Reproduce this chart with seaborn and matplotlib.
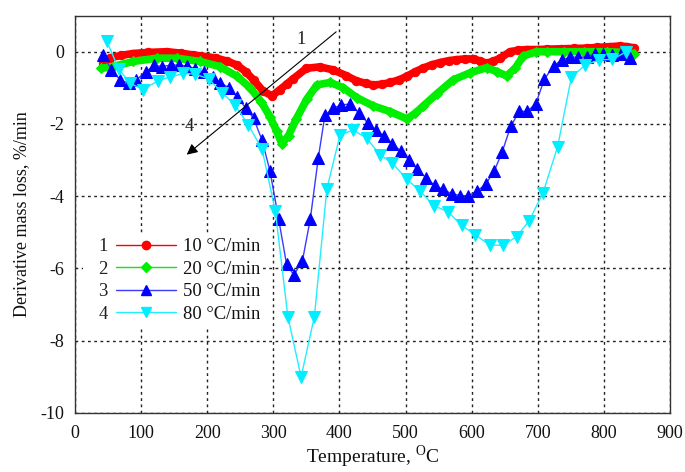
import matplotlib
matplotlib.use("Agg")
import matplotlib.pyplot as plt
from matplotlib.lines import Line2D
from matplotlib.patches import Rectangle
from matplotlib.ticker import MultipleLocator
import seaborn as sns

# Heating rates and the curve numbers used in the legend / arrow
rates = ["10 \u00b0C/min", "20 \u00b0C/min", "50 \u00b0C/min", "80 \u00b0C/min"]
curve_ids = ["1", "2", "3", "4"]

# 10 degC/min
t_10 = [43, 53, 70, 88, 110, 139, 160, 179, 200, 214, 230, 245, 258, 270, 285,
        298, 310, 320, 330, 350, 370, 390, 410, 425, 440, 451, 465, 477, 490,
        502, 515, 527, 540, 552, 565, 577, 590, 603, 613, 623, 633, 643, 658,
        670, 683, 700, 714, 735, 755, 775, 790, 810, 825, 835, 845]
dm_10 = [-0.32, -0.17, -0.10, -0.05, -0.02, 0.00, -0.04, -0.09, -0.14, -0.18,
         -0.26, -0.37, -0.55, -0.78, -1.10, -1.22, -1.05, -0.90, -0.75, -0.46,
         -0.42, -0.50, -0.66, -0.80, -0.88, -0.92, -0.90, -0.85, -0.78, -0.68,
         -0.55, -0.45, -0.36, -0.30, -0.25, -0.22, -0.20, -0.20, -0.26, -0.32,
         -0.26, -0.18, 0.00, 0.04, 0.06, 0.06, 0.07, 0.08, 0.09, 0.10, 0.12,
         0.14, 0.16, 0.14, 0.11]

# 20 degC/min
t_20 = [40, 58, 88, 124, 154, 189, 219, 245, 265, 282, 295, 305, 313, 323, 335,
        351, 366, 386, 406, 426, 451, 477, 502, 515, 527, 547, 572, 598, 623,
        638, 653, 666, 678, 698, 714, 740, 770, 805, 830, 845]
dm_20 = [-0.46, -0.41, -0.27, -0.18, -0.18, -0.27, -0.41, -0.68, -1.00, -1.40,
         -1.80, -2.20, -2.55, -2.32, -1.85, -1.30, -0.92, -0.85, -1.00, -1.27,
         -1.50, -1.66, -1.86, -1.70, -1.50, -1.17, -0.78, -0.58, -0.44, -0.55,
         -0.67, -0.45, -0.12, 0.00, 0.00, 0.00, 0.00, 0.00, -0.02, -0.05]

# 50 degC/min
t_50 = [43, 55, 68, 81, 93, 107, 120, 132, 145, 157, 170, 182, 195, 208, 220,
        233, 245, 258, 270, 283, 295, 308, 320, 331, 344, 356, 368, 378, 391,
        403, 416, 430, 443, 455, 468, 480, 493, 505, 518, 531, 544, 556, 570,
        582, 595, 608, 621, 634, 646, 659, 672, 684, 697, 710, 724, 736, 749,
        761, 774, 787, 799, 812, 826, 840]
dm_50 = [-0.09, -0.50, -0.77, -0.88, -0.78, -0.55, -0.38, -0.41, -0.37, -0.37,
         -0.40, -0.47, -0.57, -0.71, -0.86, -1.00, -1.25, -1.55, -1.84, -2.45,
         -3.31, -4.63, -5.88, -6.18, -5.79, -4.62, -2.94, -1.76, -1.56, -1.47,
         -1.45, -1.70, -1.98, -2.18, -2.33, -2.55, -2.75, -3.00, -3.26, -3.49,
         -3.70, -3.81, -3.93, -3.98, -3.99, -3.86, -3.67, -3.31, -2.78, -2.07,
         -1.65, -1.65, -1.44, -0.76, -0.39, -0.23, -0.15, -0.15, -0.15, -0.06,
         -0.06, -0.08, -0.07, -0.18]

# 80 degC/min
t_80 = [48, 66, 83, 103, 126, 144, 164, 182, 202, 222, 242, 262, 283, 303, 322,
        342, 362, 381, 401, 421, 441, 461, 480, 502, 522, 543, 564, 585, 605,
        627, 647, 668, 687, 708, 730, 751, 772, 792, 813, 834]
dm_80 = [0.29, -0.47, -0.87, -1.05, -0.80, -0.70, -0.60, -0.62, -0.75, -1.13,
         -1.47, -2.02, -2.70, -4.41, -7.34, -9.00, -7.34, -3.79, -2.30, -2.17,
         -2.39, -2.85, -3.08, -3.53, -3.86, -4.26, -4.43, -4.81, -5.06, -5.35,
         -5.36, -5.12, -4.68, -3.90, -2.63, -0.69, -0.37, -0.23, -0.21, 0.00]

x_ticks = [0, 100, 200, 300, 400, 500, 600, 700, 800, 900]
y_ticks = [-10, -8, -6, -4, -2, 0]

sns.set_theme(style="white")
plt.rcParams["font.family"] = ["Liberation Serif", "DejaVu Serif"]
plt.rcParams["mathtext.fontset"] = "custom"
plt.rcParams["mathtext.rm"] = "Liberation Serif"
plt.rcParams["axes.unicode_minus"] = False

FS_TICK = 13
FS_LEG = 13.4
FS_XLAB = 14
FS_YLAB = 13

fig = plt.figure(figsize=(6.85, 4.72), dpi=100)
ax = fig.add_axes([0.1095, 0.125, 0.8686, 0.842])
ax.set_axisbelow(True)

# colour of line, colour of marker, marker, marker size, line width
styles = [
    ("#ff0000", "#ff0000", "o", 6, 5.5),
    ("#00ee00", "#00ee00", "D", 5.5, 5.5),
    ("#3a3aff", "#0000ff", "^", 8, 1.0),
    ("#22eeff", "#00eeff", "v", 8, 1.0),
]
for (t, dm), (lc, mc, mk, ms, lw) in zip(
        [(t_10, dm_10), (t_20, dm_20), (t_50, dm_50), (t_80, dm_80)], styles):
    sns.lineplot(x=t, y=dm, ax=ax, color=lc, linewidth=lw, marker=mk,
                 markersize=ms, markerfacecolor=mc, markeredgecolor=mc,
                 sort=False, estimator=None, zorder=3)

ax.set_xlim(0, 900)
ax.set_ylim(-10, 1)
ax.set_xticks(x_ticks)
ax.set_yticks(y_ticks)
ax.set_xticklabels([str(v) for v in x_ticks])
ax.set_yticklabels([str(v) for v in y_ticks])
ax.xaxis.set_minor_locator(MultipleLocator(20))
ax.yaxis.set_minor_locator(MultipleLocator(0.2))
ax.tick_params(which="both", direction="in", top=False, right=False,
               colors="#222222", labelcolor="#111111")
ax.tick_params(which="major", length=6, width=0.8, labelsize=FS_TICK)
ax.tick_params(axis="x", which="major", pad=9)
ax.tick_params(axis="y", which="major", pad=8)
ax.tick_params(which="minor", length=4, width=0.8)
ax.grid(True, which="major", color="#222222", linestyle=(0, (2, 2.5)),
        linewidth=1.0)
for s in ax.spines.values():
    s.set_color("#333333")
    s.set_linewidth(1.0)

ax.set_xlabel(r"Temperature, $^{\mathrm{O}}$C", fontsize=FS_XLAB,
              color="#111111", labelpad=1)
ax.set_ylabel("Derivative mass loss, %/min", fontsize=FS_YLAB,
              color="#111111", labelpad=7)

# Arrow showing the order of the curves with increasing heating rate
ax.annotate("", xy=(169, -2.85), xytext=(395, 0.55),
            arrowprops=dict(arrowstyle="-|>", color="black", lw=0.8,
                            mutation_scale=16, shrinkA=0, shrinkB=0))
ax.text(342, 0.34, curve_ids[0], fontsize=FS_LEG, ha="center", va="center",
        color="#222222")
ax.text(173, -2.07, curve_ids[3], fontsize=FS_LEG, ha="center", va="center",
        color="#222222")

# White panel behind the legend block
ax.add_patch(Rectangle((0.0134, 0.214), 0.30, 0.239, transform=ax.transAxes,
                       facecolor="white", edgecolor="none", zorder=1))

handles = [Line2D([], [], color=lc, lw=1.0, marker=mk,
                  markersize=min(ms, 7), markerfacecolor=mc,
                  markeredgecolor=mc)
           for lc, mc, mk, ms, _ in styles]
leg = ax.legend(handles, rates, loc="upper left",
                bbox_to_anchor=(0.069, 0.440), frameon=False, fontsize=FS_LEG,
                handlelength=3.2, handletextpad=0.4, labelspacing=0.3,
                borderpad=0, borderaxespad=0)
for txt in leg.get_texts():
    txt.set_color("#111111")

fig.canvas.draw()
W, H = fig.get_size_inches() * fig.dpi
for txt, cid in zip(leg.get_texts(), curve_ids):
    bb = txt.get_window_extent()
    fig.text(103 / W, (bb.y0 + bb.y1) / 2 / H, cid, fontsize=FS_LEG,
             ha="center", va="center", color="#222222")

fig.savefig("out.png", dpi=100)
